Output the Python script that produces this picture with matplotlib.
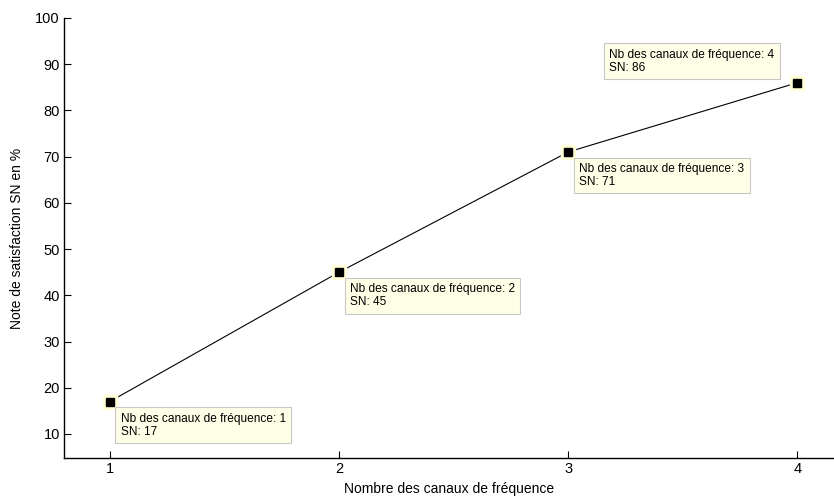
import matplotlib

matplotlib.use("Agg")
import matplotlib.pyplot as plt

# Data
nb_canaux = [1, 2, 3, 4]
sn_values = [17, 45, 71, 86]
y_ticks = [10, 20, 30, 40, 50, 60, 70, 80, 90, 100]

# Datatip placement (pixel offsets from the point, alignment)
tip_offsets = [(11, -11, "left", "top"),
               (11, -11, "left", "top"),
               (11, -11, "left", "top"),
               (-23, 9, "right", "bottom")]

plt.rcParams["font.family"] = ["Liberation Sans", "DejaVu Sans"]

fig = plt.figure(figsize=(8.34, 4.97), dpi=100)
ax = fig.add_axes([0.0767, 0.0785, 0.9233, 0.8853])

ax.plot(nb_canaux, sn_values, color="black", linewidth=0.8, zorder=2)
ax.plot(nb_canaux, sn_values, linestyle="none", marker="s", markersize=9.5,
        color="#FFFFD8", zorder=3)
ax.plot(nb_canaux, sn_values, linestyle="none", marker="s", markersize=6.3,
        color="black", zorder=4)

for x, y, (dx, dy, ha, va) in zip(nb_canaux, sn_values, tip_offsets):
    ax.annotate(
        f"Nb des canaux de fréquence: {x}\nSN: {y}",
        (x, y),
        xytext=(dx, dy),
        textcoords="offset pixels",
        ha=ha,
        va=va,
        multialignment="left",
        fontsize=8.6,
        linespacing=1.12,
        bbox=dict(boxstyle="square,pad=0.45", facecolor="#FFFFE8",
                  edgecolor="#C8C8C8", linewidth=0.8),
        zorder=5,
    )

ax.set_xlim(0.8, 4.16)
ax.set_ylim(4.8, 100)
ax.set_xticks(nb_canaux)
ax.set_yticks(y_ticks)

ax.spines["top"].set_visible(False)
ax.spines["right"].set_visible(False)
ax.spines["left"].set_linewidth(1.0)
ax.spines["bottom"].set_linewidth(1.0)
ax.tick_params(direction="in", length=5, width=0.8, labelsize=10.5, pad=3)

ax.set_xlabel("Nombre des canaux de fréquence", fontsize=10, labelpad=4)
ax.set_ylabel("Note de satisfaction SN en %", fontsize=10, labelpad=8)

fig.savefig("out.png", dpi=100, facecolor="white")
